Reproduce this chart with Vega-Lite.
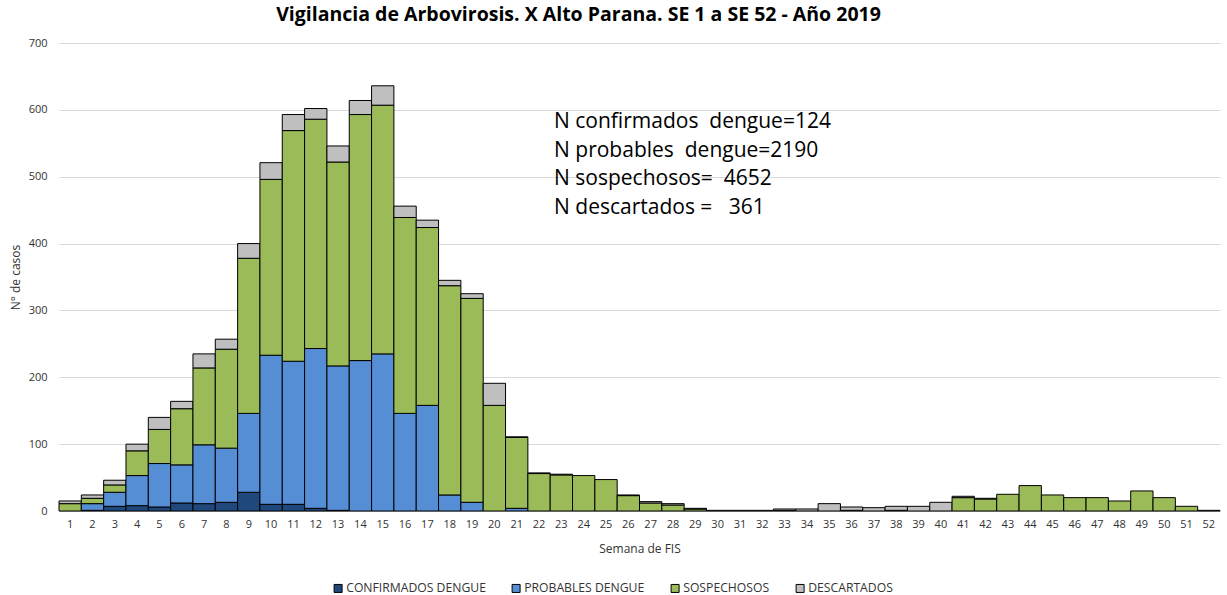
{
  "$schema": "https://vega.github.io/schema/vega-lite/v6.json",
  "width": 1161,
  "height": 468,
  "autosize": "none",
  "padding": {"left": 59, "top": 43, "right": 7, "bottom": 84},
  "background": "white",
  "title": {
    "text": "Vigilancia de Arbovirosis. X Alto Parana. SE 1 a SE 52 - Año 2019",
    "font": "Open Sans",
    "fontSize": 19.5,
    "fontWeight": "bold",
    "color": "#000000",
    "anchor": "middle",
    "dx": -61,
    "offset": 12
  },
  "datasets": {
    "casos": [
      {"semana": 1, "CONFIRMADOS DENGUE": 0, "PROBABLES DENGUE": 0, "SOSPECHOSOS": 11, "DESCARTADOS": 4},
      {"semana": 2, "CONFIRMADOS DENGUE": 1, "PROBABLES DENGUE": 10, "SOSPECHOSOS": 8, "DESCARTADOS": 5},
      {"semana": 3, "CONFIRMADOS DENGUE": 7, "PROBABLES DENGUE": 21, "SOSPECHOSOS": 11, "DESCARTADOS": 7},
      {"semana": 4, "CONFIRMADOS DENGUE": 8, "PROBABLES DENGUE": 45, "SOSPECHOSOS": 37, "DESCARTADOS": 10},
      {"semana": 5, "CONFIRMADOS DENGUE": 6, "PROBABLES DENGUE": 65, "SOSPECHOSOS": 51, "DESCARTADOS": 18},
      {"semana": 6, "CONFIRMADOS DENGUE": 12, "PROBABLES DENGUE": 57, "SOSPECHOSOS": 84, "DESCARTADOS": 11},
      {"semana": 7, "CONFIRMADOS DENGUE": 11, "PROBABLES DENGUE": 88, "SOSPECHOSOS": 115, "DESCARTADOS": 21},
      {"semana": 8, "CONFIRMADOS DENGUE": 13, "PROBABLES DENGUE": 81, "SOSPECHOSOS": 148, "DESCARTADOS": 15},
      {"semana": 9, "CONFIRMADOS DENGUE": 28, "PROBABLES DENGUE": 118, "SOSPECHOSOS": 232, "DESCARTADOS": 22},
      {"semana": 10, "CONFIRMADOS DENGUE": 10, "PROBABLES DENGUE": 223, "SOSPECHOSOS": 263, "DESCARTADOS": 25},
      {"semana": 11, "CONFIRMADOS DENGUE": 10, "PROBABLES DENGUE": 214, "SOSPECHOSOS": 345, "DESCARTADOS": 24},
      {"semana": 12, "CONFIRMADOS DENGUE": 4, "PROBABLES DENGUE": 239, "SOSPECHOSOS": 343, "DESCARTADOS": 16},
      {"semana": 13, "CONFIRMADOS DENGUE": 1, "PROBABLES DENGUE": 216, "SOSPECHOSOS": 305, "DESCARTADOS": 24},
      {"semana": 14, "CONFIRMADOS DENGUE": 0, "PROBABLES DENGUE": 225, "SOSPECHOSOS": 368, "DESCARTADOS": 21},
      {"semana": 15, "CONFIRMADOS DENGUE": 0, "PROBABLES DENGUE": 235, "SOSPECHOSOS": 372, "DESCARTADOS": 29},
      {"semana": 16, "CONFIRMADOS DENGUE": 0, "PROBABLES DENGUE": 146, "SOSPECHOSOS": 293, "DESCARTADOS": 17},
      {"semana": 17, "CONFIRMADOS DENGUE": 0, "PROBABLES DENGUE": 158, "SOSPECHOSOS": 266, "DESCARTADOS": 11},
      {"semana": 18, "CONFIRMADOS DENGUE": 0, "PROBABLES DENGUE": 24, "SOSPECHOSOS": 313, "DESCARTADOS": 8},
      {"semana": 19, "CONFIRMADOS DENGUE": 0, "PROBABLES DENGUE": 13, "SOSPECHOSOS": 305, "DESCARTADOS": 7},
      {"semana": 20, "CONFIRMADOS DENGUE": 0, "PROBABLES DENGUE": 0, "SOSPECHOSOS": 158, "DESCARTADOS": 33},
      {"semana": 21, "CONFIRMADOS DENGUE": 0, "PROBABLES DENGUE": 4, "SOSPECHOSOS": 106, "DESCARTADOS": 1},
      {"semana": 22, "CONFIRMADOS DENGUE": 0, "PROBABLES DENGUE": 0, "SOSPECHOSOS": 56, "DESCARTADOS": 1},
      {"semana": 23, "CONFIRMADOS DENGUE": 0, "PROBABLES DENGUE": 0, "SOSPECHOSOS": 54, "DESCARTADOS": 1},
      {"semana": 24, "CONFIRMADOS DENGUE": 0, "PROBABLES DENGUE": 0, "SOSPECHOSOS": 53, "DESCARTADOS": 0},
      {"semana": 25, "CONFIRMADOS DENGUE": 0, "PROBABLES DENGUE": 0, "SOSPECHOSOS": 47, "DESCARTADOS": 0},
      {"semana": 26, "CONFIRMADOS DENGUE": 0, "PROBABLES DENGUE": 0, "SOSPECHOSOS": 23, "DESCARTADOS": 1},
      {"semana": 27, "CONFIRMADOS DENGUE": 0, "PROBABLES DENGUE": 0, "SOSPECHOSOS": 12, "DESCARTADOS": 2},
      {"semana": 28, "CONFIRMADOS DENGUE": 0, "PROBABLES DENGUE": 0, "SOSPECHOSOS": 9, "DESCARTADOS": 2},
      {"semana": 29, "CONFIRMADOS DENGUE": 0, "PROBABLES DENGUE": 0, "SOSPECHOSOS": 3, "DESCARTADOS": 1},
      {"semana": 30, "CONFIRMADOS DENGUE": 0, "PROBABLES DENGUE": 0, "SOSPECHOSOS": 0, "DESCARTADOS": 1},
      {"semana": 31, "CONFIRMADOS DENGUE": 0, "PROBABLES DENGUE": 0, "SOSPECHOSOS": 0, "DESCARTADOS": 1},
      {"semana": 32, "CONFIRMADOS DENGUE": 0, "PROBABLES DENGUE": 0, "SOSPECHOSOS": 0, "DESCARTADOS": 1},
      {"semana": 33, "CONFIRMADOS DENGUE": 0, "PROBABLES DENGUE": 0, "SOSPECHOSOS": 1, "DESCARTADOS": 2},
      {"semana": 34, "CONFIRMADOS DENGUE": 0, "PROBABLES DENGUE": 0, "SOSPECHOSOS": 0, "DESCARTADOS": 3},
      {"semana": 35, "CONFIRMADOS DENGUE": 0, "PROBABLES DENGUE": 0, "SOSPECHOSOS": 0, "DESCARTADOS": 11},
      {"semana": 36, "CONFIRMADOS DENGUE": 0, "PROBABLES DENGUE": 0, "SOSPECHOSOS": 1, "DESCARTADOS": 5},
      {"semana": 37, "CONFIRMADOS DENGUE": 0, "PROBABLES DENGUE": 0, "SOSPECHOSOS": 0, "DESCARTADOS": 5},
      {"semana": 38, "CONFIRMADOS DENGUE": 0, "PROBABLES DENGUE": 0, "SOSPECHOSOS": 1, "DESCARTADOS": 6},
      {"semana": 39, "CONFIRMADOS DENGUE": 0, "PROBABLES DENGUE": 0, "SOSPECHOSOS": 0, "DESCARTADOS": 7},
      {"semana": 40, "CONFIRMADOS DENGUE": 0, "PROBABLES DENGUE": 0, "SOSPECHOSOS": 0, "DESCARTADOS": 13},
      {"semana": 41, "CONFIRMADOS DENGUE": 0, "PROBABLES DENGUE": 0, "SOSPECHOSOS": 20, "DESCARTADOS": 2},
      {"semana": 42, "CONFIRMADOS DENGUE": 0, "PROBABLES DENGUE": 0, "SOSPECHOSOS": 18, "DESCARTADOS": 1},
      {"semana": 43, "CONFIRMADOS DENGUE": 0, "PROBABLES DENGUE": 0, "SOSPECHOSOS": 25, "DESCARTADOS": 0},
      {"semana": 44, "CONFIRMADOS DENGUE": 0, "PROBABLES DENGUE": 0, "SOSPECHOSOS": 38, "DESCARTADOS": 0},
      {"semana": 45, "CONFIRMADOS DENGUE": 0, "PROBABLES DENGUE": 0, "SOSPECHOSOS": 24, "DESCARTADOS": 0},
      {"semana": 46, "CONFIRMADOS DENGUE": 0, "PROBABLES DENGUE": 0, "SOSPECHOSOS": 20, "DESCARTADOS": 0},
      {"semana": 47, "CONFIRMADOS DENGUE": 0, "PROBABLES DENGUE": 0, "SOSPECHOSOS": 20, "DESCARTADOS": 0},
      {"semana": 48, "CONFIRMADOS DENGUE": 0, "PROBABLES DENGUE": 0, "SOSPECHOSOS": 15, "DESCARTADOS": 0},
      {"semana": 49, "CONFIRMADOS DENGUE": 0, "PROBABLES DENGUE": 0, "SOSPECHOSOS": 30, "DESCARTADOS": 0},
      {"semana": 50, "CONFIRMADOS DENGUE": 0, "PROBABLES DENGUE": 0, "SOSPECHOSOS": 20, "DESCARTADOS": 0},
      {"semana": 51, "CONFIRMADOS DENGUE": 0, "PROBABLES DENGUE": 0, "SOSPECHOSOS": 7, "DESCARTADOS": 0},
      {"semana": 52, "CONFIRMADOS DENGUE": 0, "PROBABLES DENGUE": 0, "SOSPECHOSOS": 1, "DESCARTADOS": 0}
    ],
    "categorias": [
      {"categoria": "CONFIRMADOS DENGUE", "orden": 1},
      {"categoria": "PROBABLES DENGUE", "orden": 2},
      {"categoria": "SOSPECHOSOS", "orden": 3},
      {"categoria": "DESCARTADOS", "orden": 4}
    ],
    "notas": [
      {"semana": 22, "valor": 582, "texto": "N confirmados\u00a0 dengue=124"},
      {"semana": 22, "valor": 539, "texto": "N probables\u00a0 dengue=2190"},
      {"semana": 22, "valor": 496, "texto": "N sospechosos=\u00a0 4652"},
      {"semana": 22, "valor": 453, "texto": "N descartados =\u00a0\u00a0 361"}
    ]
  },
  "layer": [
    {
      "data": {"name": "casos"},
      "transform": [
        {"fold": ["CONFIRMADOS DENGUE", "PROBABLES DENGUE", "SOSPECHOSOS", "DESCARTADOS"], "as": ["categoria", "casos"]},
        {"filter": "datum.casos > 0"},
        {"lookup": "categoria", "from": {"data": {"name": "categorias"}, "key": "categoria", "fields": ["orden"]}}
      ],
      "mark": {"type": "bar", "stroke": "#000000", "strokeWidth": 1},
      "encoding": {
        "x": {
          "field": "semana",
          "type": "ordinal",
          "scale": {"paddingInner": 0, "paddingOuter": 0},
          "axis": {
            "title": "Semana de FIS",
            "titleFont": "Open Sans",
            "titleFontSize": 12,
            "titleFontWeight": "normal",
            "titleColor": "#333333",
            "titlePadding": 14,
            "labelFont": "Open Sans",
            "labelFontSize": 11,
            "labelColor": "#333333",
            "labelAngle": 0,
            "labelPadding": 7,
            "ticks": false,
            "domainColor": "#bfbfbf",
            "domainWidth": 1,
            "grid": false
          }
        },
        "y": {
          "field": "casos",
          "type": "quantitative",
          "stack": "zero",
          "scale": {"domain": [0, 700], "nice": false},
          "axis": {
            "title": "N° de casos",
            "titleFont": "Open Sans",
            "titleFontSize": 12,
            "titleFontWeight": "normal",
            "titleColor": "#333333",
            "titlePadding": 6,
            "labelFont": "Open Sans",
            "labelFontSize": 11,
            "labelColor": "#333333",
            "labelPadding": 12,
            "values": [0, 100, 200, 300, 400, 500, 600, 700],
            "ticks": false,
            "domain": false,
            "grid": true,
            "gridColor": "#d9d9d9",
            "gridWidth": 1
          }
        },
        "color": {
          "field": "categoria",
          "type": "nominal",
          "sort": ["CONFIRMADOS DENGUE", "PROBABLES DENGUE", "SOSPECHOSOS", "DESCARTADOS"],
          "scale": {
            "domain": ["CONFIRMADOS DENGUE", "PROBABLES DENGUE", "SOSPECHOSOS", "DESCARTADOS"],
            "range": ["#1f497d", "#558ed5", "#9bbb59", "#bfbfbf"]
          },
          "legend": {
            "title": null,
            "orient": "none",
            "direction": "horizontal",
            "legendX": 273,
            "legendY": 539,
            "symbolType": "square",
            "symbolSize": 64,
            "symbolStrokeColor": "#000000",
            "symbolStrokeWidth": 1,
            "labelFont": "Open Sans",
            "labelFontSize": 12.2,
            "labelColor": "#333333",
            "labelOffset": 2,
            "columnPadding": 24
          }
        },
        "order": {"field": "orden", "type": "quantitative", "sort": "ascending"}
      }
    },
    {
      "data": {"name": "notas"},
      "mark": {"type": "text", "align": "left", "baseline": "middle", "dx": 15, "font": "Open Sans", "fontSize": 21, "color": "#000000"},
      "encoding": {
        "x": {"field": "semana", "type": "ordinal"},
        "y": {"field": "valor", "type": "quantitative"},
        "text": {"field": "texto"}
      }
    }
  ],
  "config": {
    "view": {"stroke": null}
  }
}
